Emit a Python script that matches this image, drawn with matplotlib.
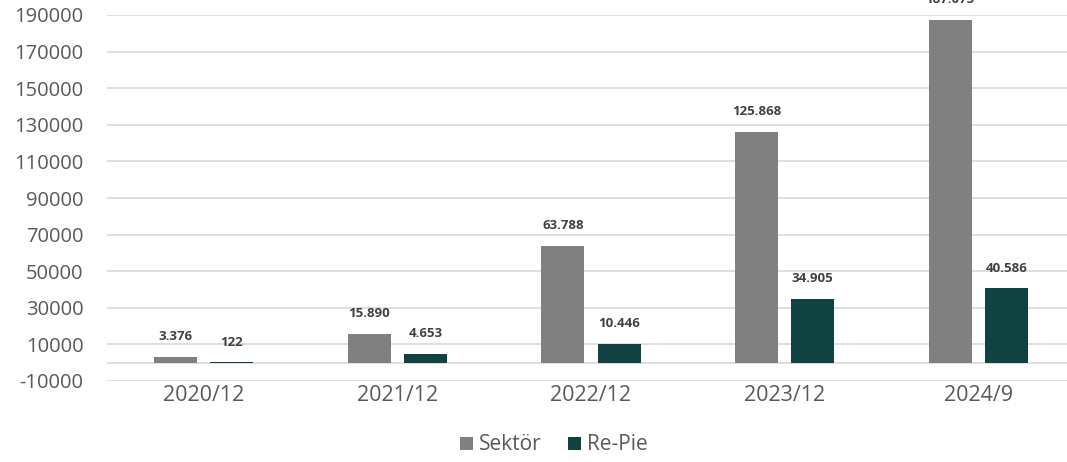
import matplotlib.pyplot as plt
import numpy as np

# chart data
categories = ['2020/12', '2021/12', '2022/12', '2023/12', '2024/9']
sektor = [3376, 15890, 63788, 125868, 187075]
repie = [122, 4653, 10446, 34905, 40586]
sektor_labels = ['3.376', '15.890', '63.788', '125.868', '187.075']
repie_labels = ['122', '4.653', '10.446', '34.905', '40.586']
yticks = list(range(-10000, 190001, 20000))

plt.rcParams['font.family'] = ['Open Sans', 'DejaVu Sans']
text_col = '#595959'
grid_col = '#D9D9D9'

fig = plt.figure(figsize=(10.67, 4.62), dpi=100)
# plot area runs a little past the right edge, as in the reference
ax = fig.add_axes([107 / 1067, 81 / 462, 968 / 1067, 366 / 462])

x = np.arange(len(categories))
w = 0.222
off = 0.145
b1 = ax.bar(x - off, sektor, w, color='#808080', zorder=3, label='Sektör')
b2 = ax.bar(x + off, repie, w, color='#104242', zorder=3, label='Re-Pie')

for bars, labels in [(b1, sektor_labels), (b2, repie_labels)]:
    for b, lab in zip(bars, labels):
        ax.annotate(lab, (b.get_x() + b.get_width() / 2, b.get_height()),
                    xytext=(0, 10), textcoords='offset points',
                    ha='center', va='bottom', fontsize=9.5, fontweight='bold',
                    color='#404040', annotation_clip=False)

ax.set_xlim(-0.5, len(categories) - 0.5)
ax.set_ylim(-10000, 190000)
ax.set_yticks(yticks)
ax.set_yticklabels([str(t) for t in yticks])
ax.set_xticks(x)
ax.set_xticklabels(categories)
ax.tick_params(axis='y', length=0, pad=17, labelsize=14.5, labelcolor=text_col)
ax.tick_params(axis='x', length=0, pad=3, labelsize=15.5, labelcolor=text_col)
ax.grid(axis='y', color=grid_col, lw=1.2, zorder=0)
ax.axhline(0, color=grid_col, lw=1.2, zorder=2)
for s in ax.spines.values():
    s.set_visible(False)

fig.legend(handles=[b1, b2], loc='center', bbox_to_anchor=(554 / 1067, 1 - 445 / 462),
           ncol=2, frameon=False, fontsize=15, labelcolor=text_col,
           handlelength=0.6, handleheight=0.6, handletextpad=0.3, columnspacing=1.3)

fig.savefig('out.png', dpi=100)
